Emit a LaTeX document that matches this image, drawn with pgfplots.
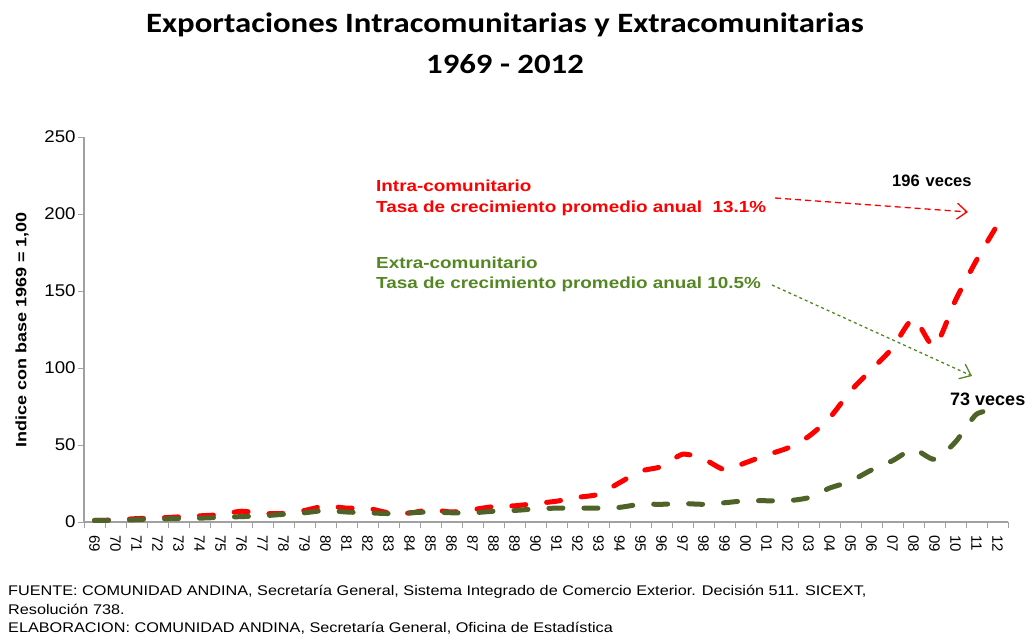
\documentclass[border=0pt]{standalone}
\usepackage{pgfplots}
\pgfplotsset{compat=1.18}
\usepackage{pgfplotstable}
\usepackage{fontspec}
\setmainfont{Liberation Sans}
\newfontfamily\titlefont{Carlito}
\usetikzlibrary{arrows.meta}
\definecolor{intrared}{RGB}{255,0,0}
\definecolor{extragreen}{RGB}{79,98,40}
\definecolor{textgreen}{RGB}{84,135,35}
\definecolor{axisgray}{RGB}{160,160,160}
\newcommand\sx[2]{\scalebox{#1}[1]{#2}}

\pgfplotstableread{
x intra extra
0 1 1
1 1.3 1.2
2 2.2 1.5
3 2.6 2
4 3.3 2.2
5 4 2.5
6 4.8 3
7 7 3.5
8 5.5 4
9 5.6 5
10 7.5 6
11 10.4 7.5
12 9 6.5
13 8.9 6
14 6 5.5
15 5.8 6
16 8 6.5
17 6.5 6
18 8 6
19 10 7
20 10.5 7.5
21 12 8.5
22 13.5 9
23 16 9
24 18 9
25 25.5 9.5
26 33 11.5
27 36 11.5
28 44 12
29 41 11.5
30 34 12.5
31 38.5 13.8
32 43.5 13.8
33 48 13.8
34 55.5 15.8
35 67.5 22
36 85 26.5
37 99 33.8
38 113 39.8
39 132 47.2
40 114 40.7
41 144 52
42 170 70
43 193 73
}\datatable

\begin{document}
\begin{tikzpicture}[x=1pt,y=1pt]
\path[use as bounding box] (0,0) rectangle (1032,641);
\begin{axis}[
  at={(84pt,119pt)}, anchor=south west,
  scale only axis, width=924pt, height=385pt,
  xmin=-0.5, xmax=43.5, ymin=0, ymax=250,
  axis lines*=left,
  axis line style={-, draw=axisgray, line width=1.5pt},
  ytick={0,50,...,250},
  xtick={0,...,43},
  xticklabels={69,70,71,72,73,74,75,76,77,78,79,80,81,82,83,84,85,86,87,88,89,90,91,92,93,94,95,96,97,98,99,00,01,02,03,04,05,06,07,08,09,10,11,12},
  minor xtick={-0.5,0.5,...,43.5},
  major x tick style={draw=none},
  minor x tick style={draw=axisgray, line width=1pt},
  y tick style={draw=axisgray, line width=1pt},
  tick align=outside,
  major tick length=6pt, minor tick length=6pt,
  xticklabel shift=6pt,
  x tick label style={rotate=-90, anchor=west, font=\fontsize{15}{15}\selectfont, inner sep=1pt},
  y tick label style={font=\fontsize{17}{17}\selectfont, xscale=1.1, inner sep=2pt},
  /pgf/number format/assume math mode=true,
  clip=false,
]
\addplot[intrared, line width=5pt, line cap=round, dash pattern=on 14pt off 21pt, smooth, tension=0.4] table[x=x,y=intra]{\datatable};
\addplot[extragreen, line width=5pt, line cap=round, dash pattern=on 14pt off 21pt, smooth, tension=0.4] table[x=x,y=extra]{\datatable};
\end{axis}

% title
\node[font=\titlefont\bfseries\fontsize{28}{28}\selectfont] at (505,616) {\sx{1.17}{Exportaciones Intracomunitarias y Extracomunitarias}};
\node[font=\titlefont\bfseries\fontsize{28}{28}\selectfont] at (505,577) {\sx{1.17}{1969 - 2012}};

% y label
\node[rotate=90, font=\bfseries\fontsize{15}{15}\selectfont] at (22,311) {\sx{1.2}{Indice con base 1969 = 1,00}};

% annotations
\node[anchor=west, inner sep=0pt, text=intrared, font=\bfseries\fontsize{16}{16}\selectfont] at (376,455) {\sx{1.18}{Intra-comunitario}};
\node[anchor=west, inner sep=0pt, text=intrared, font=\bfseries\fontsize{16}{16}\selectfont] at (376,433) {\sx{1.18}{Tasa de crecimiento promedio anual\ \ 13.1\%}};
\node[anchor=west, inner sep=0pt, text=textgreen, font=\bfseries\fontsize{16}{16}\selectfont] at (376,378) {\sx{1.18}{Extra-comunitario}};
\node[anchor=west, inner sep=0pt, text=textgreen, font=\bfseries\fontsize{16}{16}\selectfont] at (376,357) {\sx{1.18}{Tasa de crecimiento promedio anual 10.5\%}};
\node[anchor=west, inner sep=0pt, font=\bfseries\fontsize{16.5}{16.5}\selectfont] at (892,460) {196\hspace{6pt}veces};
\node[anchor=west, inner sep=0pt, font=\bfseries\fontsize{18}{18}\selectfont] at (950,242) {73 veces};

\draw[intrared, line width=1.3pt, dash pattern=on 6pt off 4pt, -{Straight Barb[length=10pt,width=16pt,line width=1.3pt]}] (775,443) -- (968,429);
\draw[textgreen, line width=1.3pt, dash pattern=on 3pt off 3pt, -{Straight Barb[length=10pt,width=16pt,line width=1.3pt]}] (772,356) -- (972,265);

% footnotes
\node[anchor=west, inner sep=0pt, font=\fontsize{14}{14}\selectfont] at (8,49) {\sx{1.16}{FUENTE: COMUNIDAD ANDINA, Secretaría General, Sistema Integrado de Comercio Exterior. Decisión 511. SICEXT,}};
\node[anchor=west, inner sep=0pt, font=\fontsize{14}{14}\selectfont] at (8,32) {\sx{1.16}{Resolución 738.}};
\node[anchor=west, inner sep=0pt, font=\fontsize{14}{14}\selectfont] at (8,13) {\sx{1.16}{ELABORACION: COMUNIDAD ANDINA, Secretaría General, Oficina de Estadística}};
\end{tikzpicture}
\end{document}
